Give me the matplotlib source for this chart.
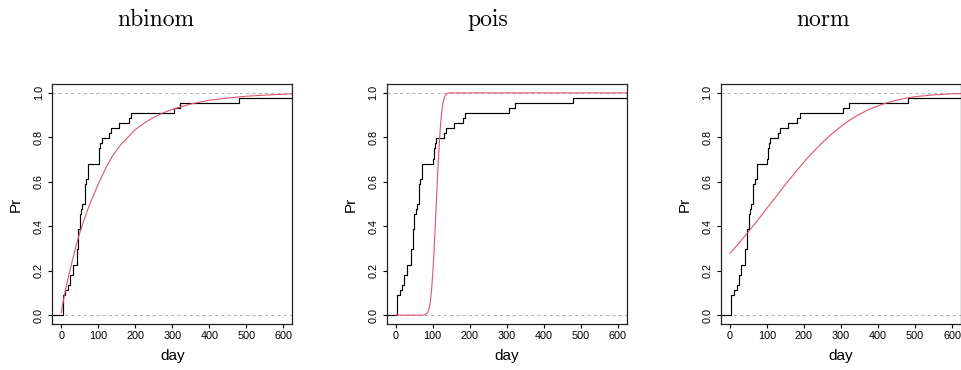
import numpy as np
import matplotlib.pyplot as plt

plt.rcParams['font.family'] = ['Liberation Sans', 'DejaVu Sans']

# observed days, one per case, read from the black ECDF steps
days = [4, 4, 4, 4, 11, 18, 24, 24, 31, 31, 42, 42, 42, 46, 46, 46, 46,
        51, 51, 51, 54, 57, 63, 63, 63, 63, 67, 72, 72, 72, 101, 103, 103,
        106, 109, 130, 135, 157, 182, 188, 305, 322, 480, 700]

# fitted CDFs (red curves)
nbinom_day = [0, 3, 6, 10, 15, 20, 30, 40, 50, 60, 75, 90, 100, 120, 140, 160,
              180, 200, 225, 250, 275, 300, 350, 400, 450, 500, 550, 600, 624]
nbinom_pr = [0.01, 0.04, 0.065, 0.10, 0.14, 0.175, 0.245, 0.31, 0.37, 0.42, 0.49,
             0.55, 0.59, 0.66, 0.72, 0.765, 0.80, 0.835, 0.865, 0.89, 0.91, 0.926,
             0.95, 0.967, 0.977, 0.985, 0.99, 0.994, 0.996]

pois_day = [0, 75, 80, 85, 88, 91, 94, 97, 100, 103, 106, 109, 112, 115, 118,
            121, 124, 127, 130, 133, 136, 140, 145, 150, 624]
pois_pr = [0.0, 0.0, 0.002, 0.008, 0.017, 0.035, 0.06, 0.11, 0.18, 0.26, 0.36,
           0.47, 0.58, 0.68, 0.77, 0.85, 0.905, 0.945, 0.97, 0.985, 0.993,
           0.998, 1.0, 1.0, 1.0]

norm_day = [0, 25, 50, 75, 100, 125, 150, 175, 200, 225, 250, 275, 300, 325,
            350, 375, 400, 425, 450, 475, 500, 550, 600, 624]
norm_pr = [0.278, 0.325, 0.375, 0.427, 0.481, 0.534, 0.588, 0.639, 0.689, 0.735,
           0.777, 0.815, 0.849, 0.879, 0.904, 0.925, 0.942, 0.956, 0.967, 0.976,
           0.983, 0.991, 0.996, 0.997]

titles = ["nbinom", "pois", "norm"]
fits = [(nbinom_day, nbinom_pr), (pois_day, pois_pr), (norm_day, norm_pr)]
title_x = [156, 488, 823]
xticks = [0, 100, 200, 300, 400, 500, 600]
yticks = [0.0, 0.2, 0.4, 0.6, 0.8, 1.0]

# ECDF steps from the observed days
vals, counts = np.unique(days, return_counts=True)
cum = np.cumsum(counts) / len(days)
step_x = np.concatenate([[-100], vals, [2000]])
step_y = np.concatenate([[0], cum, [1]])

W, H = 962, 370
fig = plt.figure(figsize=(W / 100, H / 100), dpi=100)
lefts = [52.3, 386.7, 721]

for i in range(3):
    ax = fig.add_axes([lefts[i] / W, (H - 324) / H, 240 / W, 240 / H])
    ax.axhline(0, color='#B3B3B3', lw=0.75, ls=(0, (3, 3)))
    ax.axhline(1, color='#B3B3B3', lw=0.75, ls=(0, (3, 3)))
    ax.plot(step_x, step_y, drawstyle='steps-post', color='black', lw=0.85)
    ax.plot(fits[i][0], fits[i][1], color='#DF536B', lw=0.8)
    ax.set_xlim(-24, 624)
    ax.set_ylim(-0.04, 1.04)
    ax.set_xticks(xticks)
    ax.set_yticks(yticks)
    ax.set_yticklabels([f"{v:.1f}" for v in yticks], rotation=90, va='center')
    ax.tick_params(direction='out', length=3.1, width=0.8, labelsize=7.8)
    ax.tick_params(axis='x', pad=2.0)
    ax.tick_params(axis='y', pad=3.0)
    for s in ax.spines.values():
        s.set_linewidth(0.9)
        s.set_color('#222222')
    ax.text(0.5, -0.133, "day", transform=ax.transAxes, ha='center', va='center', fontsize=11)
    ax.text(-0.151, 0.5, "Pr", transform=ax.transAxes, ha='center', va='center',
            rotation=90, fontsize=11)
    fig.text(title_x[i] / W, 1 - 20 / H, titles[i], ha='center', va='center',
             fontsize=17, family='cmr10')

fig.savefig("out.png", dpi=100)
